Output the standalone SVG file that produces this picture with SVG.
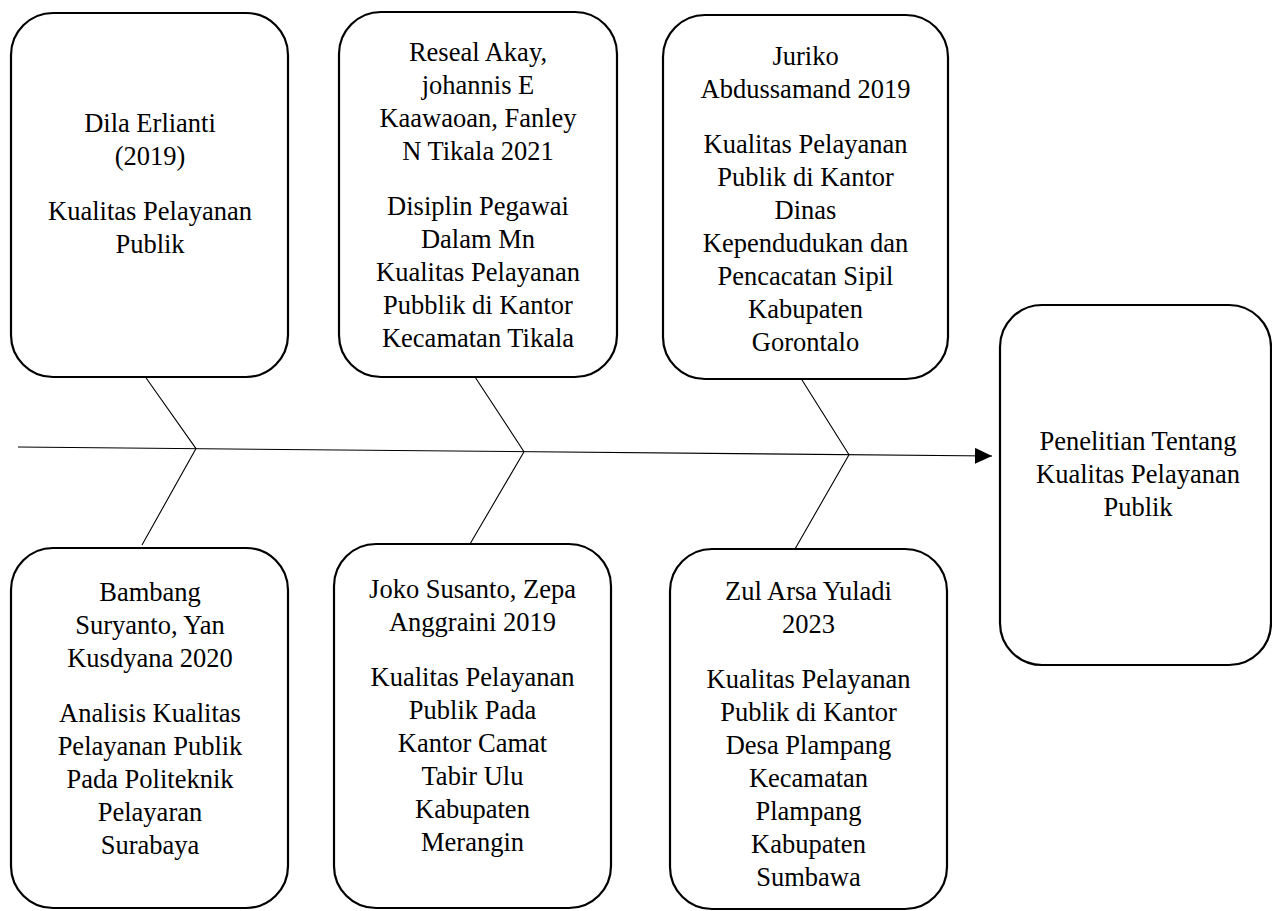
<svg xmlns="http://www.w3.org/2000/svg" width="1272" height="911" viewBox="0 0 1272 911">
<style>
.box{fill:#fff;stroke:#000;stroke-width:2.2}
.t{font-family:"Liberation Serif","Times New Roman",serif;font-size:26.5px;fill:#000;text-anchor:middle}
.ln{stroke:#000;stroke-width:1.1;fill:none}
</style>
<defs>
<marker id="arr" markerUnits="userSpaceOnUse" markerWidth="18" markerHeight="16" refX="17" refY="8" orient="auto">
<path d="M0,0 L17,8 L0,16 Z" fill="#000"/>
</marker>
</defs>
<rect width="1272" height="911" fill="#fff"/>
<g id="connectors">
<path class="ln" d="M18,447 L992,456" marker-end="url(#arr)"/>
<path class="ln" d="M144,375 L196,448.6 L142,545"/>
<path class="ln" d="M475,377 L524,451.7 L470,544"/>
<path class="ln" d="M802,380 L849,454.7 L795,549"/>
</g>
<g id="n1">
<rect class="box" x="11" y="13" width="277" height="364" rx="42"/>
<text class="t"><tspan x="150" y="132">Dila Erlianti</tspan><tspan x="150" y="165">(2019)</tspan><tspan x="150" y="220">Kualitas Pelayanan</tspan><tspan x="150" y="253">Publik</tspan></text>
</g>
<g id="n2">
<rect class="box" x="339" y="12" width="278" height="365" rx="42"/>
<text class="t"><tspan x="478" y="61">Reseal Akay,</tspan><tspan x="478" y="94">johannis E</tspan><tspan x="478" y="127">Kaawaoan, Fanley</tspan><tspan x="478" y="160">N Tikala 2021</tspan><tspan x="478" y="215">Disiplin Pegawai</tspan><tspan x="478" y="248">Dalam Mn</tspan><tspan x="478" y="281">Kualitas Pelayanan</tspan><tspan x="478" y="314">Pubblik di Kantor</tspan><tspan x="478" y="347">Kecamatan Tikala</tspan></text>
</g>
<g id="n3">
<rect class="box" x="663" y="15" width="285" height="364" rx="42"/>
<text class="t"><tspan x="805.5" y="65">Juriko</tspan><tspan x="805.5" y="98">Abdussamand 2019</tspan><tspan x="805.5" y="153">Kualitas Pelayanan</tspan><tspan x="805.5" y="186">Publik di Kantor</tspan><tspan x="805.5" y="219">Dinas</tspan><tspan x="805.5" y="252">Kependudukan dan</tspan><tspan x="805.5" y="285">Pencacatan Sipil</tspan><tspan x="805.5" y="318">Kabupaten</tspan><tspan x="805.5" y="351">Gorontalo</tspan></text>
</g>
<g id="n4">
<rect class="box" x="1000" y="305" width="271" height="360" rx="42"/>
<text class="t"><tspan x="1138" y="450">Penelitian Tentang</tspan><tspan x="1138" y="483">Kualitas Pelayanan</tspan><tspan x="1138" y="516">Publik</tspan></text>
</g>
<g id="n5">
<rect class="box" x="11" y="548" width="277" height="360" rx="42"/>
<text class="t"><tspan x="150" y="601">Bambang</tspan><tspan x="150" y="634">Suryanto, Yan</tspan><tspan x="150" y="667">Kusdyana 2020</tspan><tspan x="150" y="722">Analisis Kualitas</tspan><tspan x="150" y="755">Pelayanan Publik</tspan><tspan x="150" y="788">Pada Politeknik</tspan><tspan x="150" y="821">Pelayaran</tspan><tspan x="150" y="854">Surabaya</tspan></text>
</g>
<g id="n6">
<rect class="box" x="334" y="544" width="277" height="364" rx="42"/>
<text class="t"><tspan x="472.5" y="598">Joko Susanto, Zepa</tspan><tspan x="472.5" y="631">Anggraini 2019</tspan><tspan x="472.5" y="686">Kualitas Pelayanan</tspan><tspan x="472.5" y="719">Publik Pada</tspan><tspan x="472.5" y="752">Kantor Camat</tspan><tspan x="472.5" y="785">Tabir Ulu</tspan><tspan x="472.5" y="818">Kabupaten</tspan><tspan x="472.5" y="851">Merangin</tspan></text>
</g>
<g id="n7">
<rect class="box" x="670" y="549" width="277" height="360" rx="42"/>
<text class="t"><tspan x="808.5" y="600">Zul Arsa Yuladi</tspan><tspan x="808.5" y="633">2023</tspan><tspan x="808.5" y="688">Kualitas Pelayanan</tspan><tspan x="808.5" y="721">Publik di Kantor</tspan><tspan x="808.5" y="754">Desa Plampang</tspan><tspan x="808.5" y="787">Kecamatan</tspan><tspan x="808.5" y="820">Plampang</tspan><tspan x="808.5" y="853">Kabupaten</tspan><tspan x="808.5" y="886">Sumbawa</tspan></text>
</g>
</svg>
